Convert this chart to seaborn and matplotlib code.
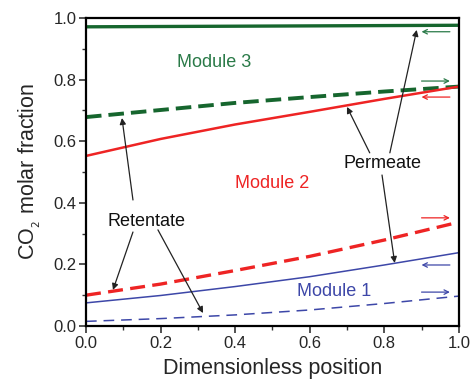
import matplotlib
matplotlib.use("Agg")
import matplotlib.pyplot as plt
import seaborn as sns
import pandas as pd
from matplotlib.ticker import MultipleLocator

x = [0.0, 0.2, 0.4, 0.6, 0.8, 1.0]
m3_permeate = [0.971, 0.972, 0.973, 0.974, 0.975, 0.976]
m3_retentate = [0.678, 0.701, 0.724, 0.743, 0.761, 0.777]
m2_permeate = [0.552, 0.607, 0.654, 0.695, 0.737, 0.777]
m2_retentate = [0.100, 0.136, 0.180, 0.226, 0.279, 0.337]
m1_permeate = [0.075, 0.099, 0.128, 0.160, 0.198, 0.238]
m1_retentate = [0.015, 0.024, 0.036, 0.052, 0.073, 0.097]

series = {
    "m3_permeate": m3_permeate, "m3_retentate": m3_retentate,
    "m2_permeate": m2_permeate, "m2_retentate": m2_retentate,
    "m1_permeate": m1_permeate, "m1_retentate": m1_retentate,
}

sns.set_style("ticks")
plt.rcParams["font.family"] = ["Liberation Sans", "DejaVu Sans"]

GREEN = "#16662e"
GREEN_T = "#2a7a48"
RED = "#ee2424"
BLUE = "#3d47a8"

styles = {
    "m3_permeate": dict(color=GREEN, lw=2.4, dashes=None),
    "m3_retentate": dict(color=GREEN, lw=2.8, dashes=(4.0, 1.8)),
    "m2_permeate": dict(color=RED, lw=1.8, dashes=None),
    "m2_retentate": dict(color=RED, lw=2.4, dashes=(4.5, 2.2)),
    "m1_permeate": dict(color=BLUE, lw=1.1, dashes=None),
    "m1_retentate": dict(color=BLUE, lw=1.1, dashes=(7, 4.5)),
}

fig = plt.figure(figsize=(4.74, 3.82), dpi=100)
ax = fig.add_axes([0.1814, 0.1466, 0.7866, 0.8066])

for name, vals in series.items():
    df = pd.DataFrame({"x": x, "y": vals})
    st = styles[name]
    sns.lineplot(data=df, x="x", y="y", ax=ax, color=st["color"], lw=st["lw"])
    l = ax.lines[-1]
    if st["dashes"] is not None:
        l.set_dashes(st["dashes"])
    l.set_solid_capstyle("butt")
    l.set_dash_capstyle("butt")

ax.set_xlim(0, 1.0)
ax.set_ylim(0, 1.0)
ax.xaxis.set_major_locator(MultipleLocator(0.2))
ax.xaxis.set_minor_locator(MultipleLocator(0.1))
ax.yaxis.set_major_locator(MultipleLocator(0.2))
ax.yaxis.set_minor_locator(MultipleLocator(0.1))
ax.tick_params(which="major", direction="out", length=5, width=1.2, labelsize=12, pad=2, color="#333333")
ax.tick_params(which="minor", direction="out", length=3, width=1.0, color="#333333")
for s in ax.spines.values():
    s.set_linewidth(1.6)
    s.set_color("black")

ax.set_xlabel("Dimensionless position", fontsize=15.5, labelpad=5)
ax.set_ylabel("CO$_{_2}$ molar fraction", fontsize=15.5, labelpad=7)

ax.text(0.345, 0.855, "Module 3", color=GREEN_T, fontsize=13, ha="center", va="center")
ax.text(0.499, 0.462, "Module 2", color=RED, fontsize=13, ha="center", va="center")
ax.text(0.666, 0.111, "Module 1", color=BLUE, fontsize=13, ha="center", va="center")
ax.text(0.163, 0.339, "Retentate", color="#111111", fontsize=13, ha="center", va="center")
ax.text(0.794, 0.528, "Permeate", color="#111111", fontsize=13, ha="center", va="center")

ap = dict(arrowstyle="-|>", color="#222222", lw=0.9, mutation_scale=9, shrinkA=0, shrinkB=0)
pointers = [
    ((0.0724, 0.117), (0.126, 0.305)),
    ((0.314, 0.042), (0.193, 0.312)),
    ((0.0965, 0.675), (0.126, 0.409)),
    ((0.700, 0.711), (0.761, 0.562)),
    ((0.887, 0.961), (0.815, 0.562)),
    ((0.828, 0.2045), (0.794, 0.490)),
]
for tip, start in pointers:
    ax.annotate("", xy=tip, xytext=start, arrowprops=ap)

def dir_arrow(y, color, right):
    x0, x1 = 0.900, 0.976
    if right:
        xy, xyt = (x1, y), (x0, y)
    else:
        xy, xyt = (x0, y), (x1, y)
    ax.annotate("", xy=xy, xytext=xyt,
                arrowprops=dict(arrowstyle="->", color=color, lw=0.9, mutation_scale=8,
                                shrinkA=0, shrinkB=0))

dir_arrow(0.955, GREEN_T, False)
dir_arrow(0.795, GREEN_T, True)
dir_arrow(0.743, RED, False)
dir_arrow(0.351, RED, True)
dir_arrow(0.198, BLUE, False)
dir_arrow(0.110, BLUE, True)

fig.savefig("out.png", dpi=100)
